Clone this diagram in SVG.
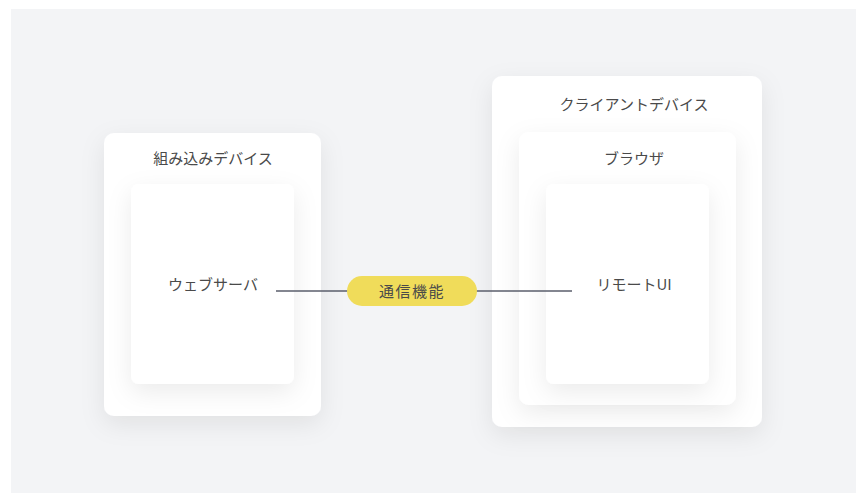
<svg xmlns="http://www.w3.org/2000/svg" width="856" height="493" viewBox="0 0 856 493">
  <defs>
    <filter id="sh" x="-30%" y="-30%" width="160%" height="170%">
      <feDropShadow dx="0" dy="8" stdDeviation="12" flood-color="#000" flood-opacity="0.08"/>
    </filter>
    <style>
      .box { fill: #ffffff; filter: url(#sh); }
      .lbl { font-family: "Noto Sans CJK JP", "Noto Sans", sans-serif; font-size: 15px; fill: #4a4a4a; text-anchor: middle; dominant-baseline: central; }
      .conn { stroke: #5a5e6b; stroke-width: 1.3; fill: none; }
    </style>
  </defs>
  <rect x="0" y="0" width="856" height="493" fill="#ffffff"/>
  <rect x="11" y="9" width="845" height="484" fill="#f3f4f6"/>

  <g id="embedded-device">
    <rect class="box" x="104" y="133" width="217" height="283" rx="10"/>
    <text class="lbl" x="213" y="157">組み込みデバイス</text>
  </g>
  <g id="web-server">
    <rect class="box" x="131" y="184" width="163" height="200" rx="8"/>
    <text class="lbl" x="213" y="283">ウェブサーバ</text>
  </g>

  <g id="client-device">
    <rect class="box" x="492" y="76" width="270" height="351" rx="10"/>
    <text class="lbl" x="634" y="103">クライアントデバイス</text>
  </g>
  <g id="browser">
    <rect class="box" x="519" y="132" width="217" height="273" rx="10"/>
    <text class="lbl" x="634" y="157">ブラウザ</text>
  </g>
  <g id="remote-ui">
    <rect class="box" x="546" y="184" width="163" height="200" rx="8"/>
    <text class="lbl" x="634" y="283">リモートUI</text>
  </g>

  <g id="connectors">
    <line class="conn" x1="276" y1="291" x2="572" y2="291"/>
  </g>
  <g id="comm-label">
    <rect x="347" y="276" width="130" height="30" rx="15" fill="#f0dc5a"/>
    <text class="lbl" x="412" y="290" fill="#333333" letter-spacing="1.5">通信機能</text>
  </g>
</svg>
